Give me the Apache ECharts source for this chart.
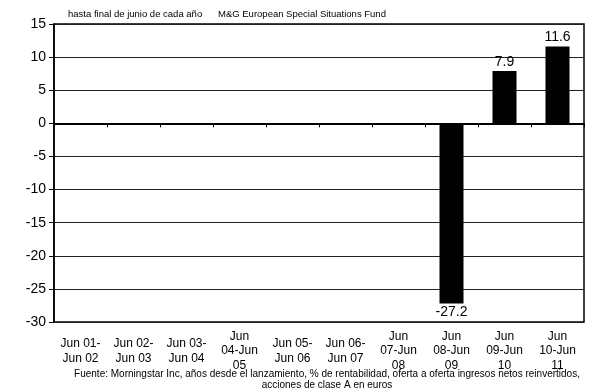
<!DOCTYPE html>
<html><head><meta charset="utf-8">
<script src="https://cdn.jsdelivr.net/npm/echarts@6/dist/echarts.min.js"></script>
<style>html,body{margin:0;padding:0;background:#fff}#c{width:590px;height:392px}</style>
</head><body><div id="c"></div>
<script>
var categories = ["Jun 01-\nJun 02","Jun 02-\nJun 03","Jun 03-\nJun 04","Jun\n04-Jun\n05","Jun 05-\nJun 06","Jun 06-\nJun 07","Jun\n07-Jun\n08","Jun\n08-Jun\n09","Jun\n09-Jun\n10","Jun\n10-Jun\n11"];
var values = [null,null,null,null,null,null,null,-27.2,7.9,11.6];
var yTicks = [-30,-25,-20,-15,-10,-5,0,5,10,15];
var titleLeft = "hasta final de junio de cada año";
var titleRight = "M&G European Special Situations Fund";
var footer = "Fuente: Morningstar Inc, años desde el lanzamiento, % de rentabilidad, oferta a oferta ingresos netos reinvertidos,\nacciones de clase A en euros";

var font = "'Liberation Sans', Arial, sans-serif";
var chart = echarts.init(document.getElementById('c'));
var barData = values.map(function(v){
  if (v === null) return null;
  return {value: v, label: {position: v < 0 ? 'bottom' : 'top'}};
});
chart.setOption({
  animation: false,
  textStyle: {fontFamily: font},
  graphic: [
    {type:'text', left: 68, top: 9, style:{text: titleLeft, font: '9.5px ' + font, fill:'#000'}},
    {type:'text', left: 218, top: 9, style:{text: titleRight, font: '9.5px ' + font, fill:'#000'}},
    {type:'text', x: 327, y: 369, style:{text: footer, font: '10px ' + font, fill:'#000', align:'center', verticalAlign:'top', lineHeight: 11}}
  ],
  grid: {left: 54, right: 6, top: 24, bottom: 70, show: true, borderColor: '#000', borderWidth: 1.5, backgroundColor: 'transparent'},
  xAxis: [
    {type:'category', data: categories, position:'bottom',
     axisLine:{show:true, onZero:true, lineStyle:{color:'#000', width:2}},
     axisTick:{show:true, length:4, lineStyle:{color:'#000', width:1}},
     axisLabel:{show:false}},
    {type:'category', data: categories, position:'bottom',
     axisLine:{show:false, onZero:false}, axisTick:{show:false},
     axisLabel:{show:true, interval:0, color:'#000', fontSize:12, lineHeight:14.5, margin:29, verticalAlign:'middle', fontFamily: font}}
  ],
  yAxis: {type:'value', min: yTicks[0], max: yTicks[yTicks.length-1], interval: 5,
    axisLine:{show:true, lineStyle:{color:'#000', width:1.5}},
    axisTick:{show:true, length:5, lineStyle:{color:'#000'}},
    axisLabel:{color:'#000', fontSize:14, margin:8, fontFamily: font},
    splitLine:{show:true, lineStyle:{color:'#222', width:1}}
  },
  series: [{type:'bar', xAxisIndex:0, data: barData, barWidth: 24,
    itemStyle:{color:'#000'},
    label:{show:true, color:'#000', fontSize:14, fontFamily: font, distance: 2,
      formatter: function(p){ return p.value.toFixed(1); }}
  }]
});
</script></body></html>
